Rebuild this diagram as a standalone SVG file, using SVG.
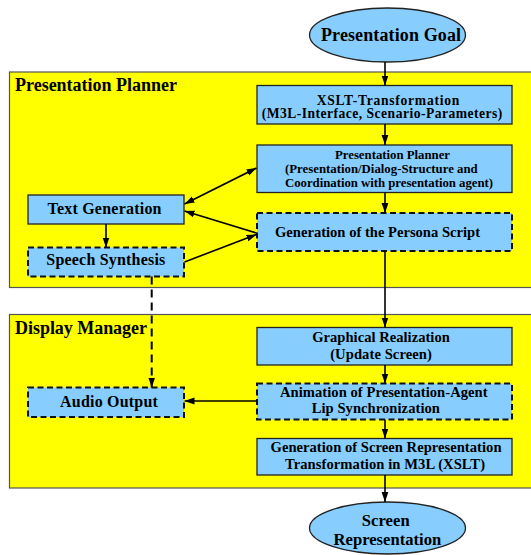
<svg xmlns="http://www.w3.org/2000/svg" width="531" height="555" viewBox="0 0 531 555">
<style>
text { font-family: "Liberation Serif", "Times New Roman", serif; font-weight: bold; fill: #000; }
.m { text-anchor: middle; }
.container { fill: #ffff00; stroke: #555; stroke-width: 1.2; }
.box { fill: #87ceff; stroke: #222; stroke-width: 1.3; }
.dbox { fill: #87ceff; stroke: #111; stroke-width: 2; stroke-dasharray: 6 3.5; }
.ell { fill: #87ceff; stroke: #222; stroke-width: 1.3; }
.c { fill: none; stroke: #000; stroke-width: 1.6; marker-end: url(#ah); }
.f18 { font-size: 18px; }
.f16 { font-size: 16px; }
.f166 { font-size: 16.6px; }
.f146 { font-size: 14.6px; }
.f136 { font-size: 13.6px; }
.f128 { font-size: 12.8px; }
</style>
<defs>
<marker id="ah" viewBox="0 0 10 8" refX="10" refY="4" markerWidth="10" markerHeight="8" markerUnits="userSpaceOnUse" orient="auto-start-reverse">
<path d="M0,0.6 L10,4 L0,7.4 z" fill="#000"/>
</marker>
</defs>
<rect width="531" height="555" fill="#fff"/>

<g id="presentation-planner-container">
<rect class="container" x="9.5" y="72" width="530" height="215.5"/>
<text class="f18" x="15" y="91" textLength="162">Presentation Planner</text>
</g>
<g id="display-manager-container">
<rect class="container" x="9.5" y="314.5" width="530" height="173.5"/>
<text class="f18" x="15" y="334" textLength="132">Display Manager</text>
</g>

<g id="presentation-goal">
<ellipse class="ell" cx="387.5" cy="35" rx="78" ry="27"/>
<text class="m f18" x="391" y="40.5" textLength="140">Presentation Goal</text>
</g>

<g id="xslt-transformation">
<rect class="box" x="257" y="85.5" width="255" height="38.5"/>
<text class="m f136" x="388" y="104.5" textLength="142.6">XSLT-Transformation</text>
<text class="m f136" x="382" y="118" textLength="240.6">(M3L-Interface, Scenario-Parameters)</text>
</g>

<g id="presentation-planner">
<rect class="box" x="257" y="145" width="255" height="47.5"/>
<text class="m f128" x="392.5" y="159" textLength="115">Presentation Planner</text>
<text class="f128" x="285" y="173" textLength="192.7">(Presentation/Dialog-Structure and</text>
<text class="f128" x="285" y="186.5" textLength="208">Coordination with presentation agent)</text>
</g>

<g id="text-generation">
<rect class="box" x="28" y="195" width="156" height="29"/>
<text class="m f16" x="104.5" y="214" textLength="114">Text Generation</text>
</g>

<g id="speech-synthesis">
<rect class="dbox" x="28" y="247.5" width="156" height="29"/>
<text class="m f16" x="105.8" y="265" textLength="119">Speech Synthesis</text>
</g>

<g id="persona-script">
<rect class="dbox" x="257" y="213" width="255" height="38"/>
<text class="m f146" x="377.5" y="237" textLength="205">Generation of the Persona Script</text>
</g>

<g id="graphical-realization">
<rect class="box" x="257" y="327.5" width="255" height="37.5"/>
<text class="m f146" x="381" y="342" textLength="137.7">Graphical Realization</text>
<text class="m f146" x="381" y="359" textLength="101.7">(Update Screen)</text>
</g>

<g id="animation">
<rect class="dbox" x="257" y="383.5" width="255" height="36"/>
<text class="m f146" x="383.8" y="396.5" textLength="207.7">Animation of Presentation-Agent</text>
<text class="m f146" x="375.8" y="413.3" textLength="128.3">Lip Synchronization</text>
</g>

<g id="audio-output">
<rect class="dbox" x="28" y="387.5" width="156" height="29.5"/>
<text class="m f16" x="109" y="407" textLength="97.8">Audio Output</text>
</g>

<g id="screen-generation">
<rect class="box" x="257" y="438.5" width="255" height="36.5"/>
<text class="m f146" x="386" y="451.7" textLength="231">Generation of Screen Representation</text>
<text class="m f146" x="385" y="469" textLength="200">Transformation in M3L (XSLT)</text>
</g>

<g id="screen-representation">
<ellipse class="ell" cx="387.5" cy="528" rx="78" ry="26"/>
<text class="m f166" x="385.7" y="526" textLength="48">Screen</text>
<text class="m f166" x="387.4" y="544.5" textLength="107.7">Representation</text>
</g>

<g id="connectors">
<line class="c" x1="385" y1="62" x2="385" y2="85.5"/>
<line class="c" x1="385" y1="124" x2="385" y2="145"/>
<line class="c" x1="385" y1="192.5" x2="385" y2="213"/>
<line class="c" x1="385" y1="251" x2="385" y2="327.5"/>
<line class="c" x1="385" y1="365" x2="385" y2="383.5"/>
<line class="c" x1="385" y1="419.5" x2="385" y2="438.5"/>
<line class="c" x1="385" y1="475" x2="385" y2="502"/>
<line class="c" x1="106" y1="224" x2="106" y2="247.5"/>
<line class="c" x1="184.5" y1="204" x2="256.5" y2="168" style="marker-start: url(#ah)"/>
<line class="c" x1="256.5" y1="233" x2="184.5" y2="211"/>
<line class="c" x1="184.5" y1="262" x2="256.5" y2="234.5"/>
<line class="c" x1="256.5" y1="401" x2="184.5" y2="401"/>
<line class="c" x1="151.7" y1="276.5" x2="151.7" y2="387.5" style="stroke-dasharray: 8 5; stroke-width: 2"/>
</g>
</svg>
